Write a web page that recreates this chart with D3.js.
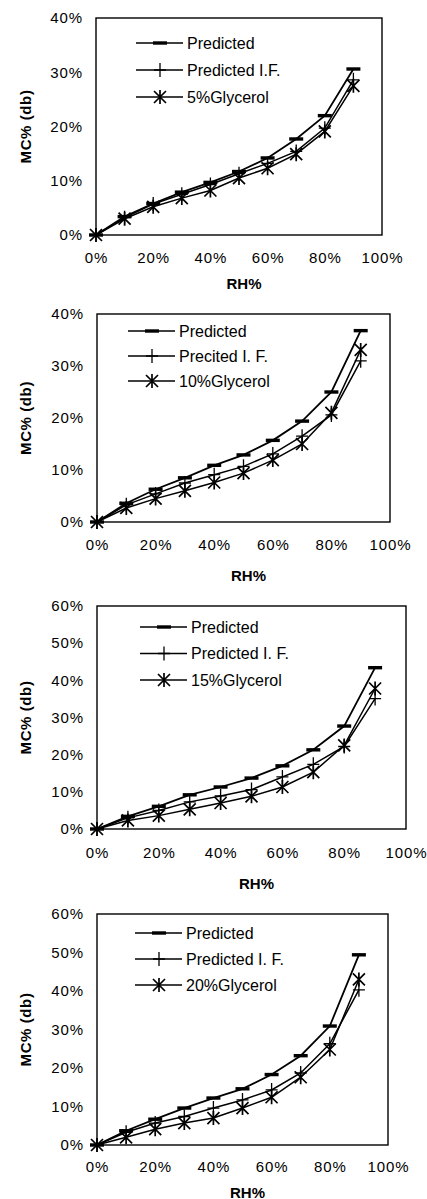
<!DOCTYPE html>
<html>
<head>
<meta charset="utf-8">
<script src="https://cdn.jsdelivr.net/npm/d3@7"></script>
<style>
  body { margin: 0; background: #fff; }
  text { font-family: Arial, "Liberation Sans", sans-serif; fill: #000; }
</style>
</head>
<body>
<script>
const rh = [0, 10, 20, 30, 40, 50, 60, 70, 80, 90]
const xTicks = [0, 20, 40, 60, 80, 100]

// panel 1 - 5% glycerol
const pred5 = [0, 3.4, 5.8, 7.9, 9.7, 11.7, 14.2, 17.7, 22.0, 30.6]
const predIF5 = [0, 3.2, 5.7, 7.5, 9.3, 11.3, 13.2, 15.4, 19.7, 28.6]
const glyc5 = [0, 3.0, 5.2, 6.8, 8.2, 10.5, 12.3, 14.9, 19.1, 27.5]

// panel 2 - 10% glycerol
const pred10 = [0, 3.6, 6.3, 8.5, 10.9, 12.9, 15.7, 19.4, 25.0, 36.8]
const predIF10 = [0, 3.3, 5.4, 7.5, 9.1, 10.7, 13.1, 16.5, 20.6, 31.0]
const glyc10 = [0, 2.7, 4.5, 6.0, 7.6, 9.4, 11.9, 15.0, 21.0, 33.1]

// panel 3 - 15% glycerol
const pred15 = [0, 3.4, 6.1, 9.2, 11.3, 13.7, 17.0, 21.3, 27.7, 43.4]
const predIF15 = [0, 3.0, 5.0, 7.3, 8.9, 10.6, 14.0, 17.4, 22.2, 35.1]
const glyc15 = [0, 2.3, 3.6, 5.3, 7.0, 8.8, 11.3, 15.3, 22.5, 37.8]

// panel 4 - 20% glycerol
const pred20 = [0, 3.7, 6.7, 9.6, 12.2, 14.6, 18.3, 23.2, 30.9, 49.4]
const predIF20 = [0, 3.3, 5.7, 7.4, 9.6, 11.7, 14.3, 18.7, 26.3, 40.3]
const glyc20 = [0, 2.0, 4.1, 5.7, 7.0, 9.6, 12.4, 17.6, 24.8, 43.0]

const yTicks40 = [0, 10, 20, 30, 40]
const yTicks60 = [0, 10, 20, 30, 40, 50, 60]

const panels = [
  { names: ['Predicted', 'Predicted I.F.', '5%Glycerol'], series: [pred5, predIF5, glyc5], yTicks: yTicks40,
    left: 96, right: 382, top: 18, bottom: 235, xLab: 258, title: 283, legX: 136, legY: 43, legStep: 27 },
  { names: ['Predicted', 'Precited I. F.', '10%Glycerol'], series: [pred10, predIF10, glyc10], yTicks: yTicks40,
    left: 97, right: 390, top: 314, bottom: 522, xLab: 545, title: 575, legX: 128, legY: 331, legStep: 25 },
  { names: ['Predicted', 'Predicted I. F.', '15%Glycerol'], series: [pred15, predIF15, glyc15], yTicks: yTicks60,
    left: 97, right: 406, top: 606, bottom: 829, xLab: 853, title: 883, legX: 140, legY: 627, legStep: 26.5 },
  { names: ['Predicted', 'Predicted I. F.', '20%Glycerol'], series: [pred20, predIF20, glyc20], yTicks: yTicks60,
    left: 97, right: 388, top: 914, bottom: 1145, xLab: 1167, title: 1192, legX: 135, legY: 933, legStep: 26 }
]

const W = 427, H = 1199

const svg = d3.select('body')
  .append('svg')
  .attr('width', W)
  .attr('height', H)

// markers: 0 = dash, 1 = plus, 2 = asterisk
function marker(g, type, x, y) {
  if (type === 0) {
    g.append('rect')
      .attr('x', x - 7).attr('y', y - 1.7)
      .attr('width', 14).attr('height', 3.4)
      .attr('fill', '#000')
  } else if (type === 1) {
    g.append('path')
      .attr('d', `M${x - 6},${y}H${x + 6}M${x},${y - 7}V${y + 7}`)
      .attr('stroke', '#000').attr('stroke-width', 1.3)
  } else {
    const r = 6
    g.append('path')
      .attr('d', `M${x - r},${y - r}L${x + r},${y + r}M${x - r},${y + r}L${x + r},${y - r}M${x},${y - r - 1}V${y + r + 1}`)
      .attr('stroke', '#000').attr('stroke-width', 1.7)
  }
}

panels.forEach(p => {
  const yMax = p.yTicks[p.yTicks.length - 1]
  const x = d3.scaleLinear().domain([0, 100]).range([p.left, p.right])
  const y = d3.scaleLinear().domain([0, yMax]).range([p.bottom, p.top])

  const g = svg.append('g')

  // frame
  g.append('rect')
    .attr('x', p.left).attr('y', p.top)
    .attr('width', p.right - p.left).attr('height', p.bottom - p.top)
    .attr('fill', 'none').attr('stroke', '#000').attr('stroke-width', 1.4)

  const yAxis = d3.axisLeft(y).tickValues(p.yTicks).tickSize(0).tickPadding(13)
    .tickFormat(d => d + '%')
  g.append('g')
    .attr('transform', `translate(${p.left},0)`)
    .call(yAxis)
    .call(a => a.select('.domain').remove())
    .selectAll('text')
    .attr('font-size', 15)
    .attr('letter-spacing', 0.9)

  const xAxis = d3.axisBottom(x).tickValues(xTicks).tickSize(0).tickPadding(0)
    .tickFormat(d => d + '%')
  g.append('g')
    .attr('transform', `translate(0,${p.xLab})`)
    .call(xAxis)
    .call(a => a.select('.domain').remove())
    .selectAll('text')
    .attr('font-size', 15)
    .attr('letter-spacing', 0.9)
    .attr('dy', '0.35em')

  g.append('text')
    .attr('x', (p.left + p.right) / 2 + 5)
    .attr('y', p.title)
    .attr('text-anchor', 'middle')
    .attr('dominant-baseline', 'central')
    .attr('font-size', 15)
    .attr('font-weight', 'bold')
    .text('RH%')

  g.append('text')
    .attr('transform', `translate(25,${(p.top + p.bottom) / 2}) rotate(-90)`)
    .attr('text-anchor', 'middle')
    .attr('dominant-baseline', 'central')
    .attr('font-size', 15)
    .attr('font-weight', 'bold')
    .attr('letter-spacing', 0.6)
    .text('MC% (db)')

  const line = d3.line()
    .x((d, i) => x(rh[i]))
    .y(d => y(d))

  p.series.forEach((s, k) => {
    g.append('path')
      .datum(s)
      .attr('d', line)
      .attr('fill', 'none')
      .attr('stroke', '#000')
      .attr('stroke-width', k === 0 ? 1.8 : 1.5)
    s.forEach((v, i) => marker(g, k, x(rh[i]), y(v)))
  })

  // legend
  p.names.forEach((name, k) => {
    const ly = p.legY + k * p.legStep
    g.append('line')
      .attr('x1', p.legX).attr('x2', p.legX + 47)
      .attr('y1', ly).attr('y2', ly)
      .attr('stroke', '#000').attr('stroke-width', 1.7)
    marker(g, k, p.legX + 24, ly)
    g.append('text')
      .attr('x', p.legX + 51)
      .attr('y', ly)
      .attr('dominant-baseline', 'central')
      .attr('font-size', 16)
      .text(name)
  })
})
</script>
</body>
</html>
